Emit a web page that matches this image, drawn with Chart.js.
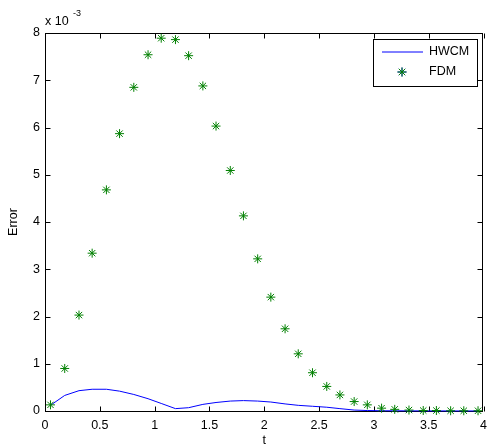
<!DOCTYPE html>
<html>
<head>
<meta charset="utf-8">
<script src="https://cdn.jsdelivr.net/npm/chart.js@4.4.1/dist/chart.umd.min.js"></script>
<style>
  html, body { margin: 0; padding: 0; background: #fff; }
  canvas { display: block; }
</style>
</head>
<body>
<canvas id="err" width="494" height="446"></canvas>
<script>
// values, error in units of 1e-3
const tValues = [0.05, 0.18, 0.31, 0.43, 0.56, 0.68, 0.81, 0.94, 1.06, 1.19, 1.31, 1.44,
  1.56, 1.69, 1.81, 1.94, 2.06, 2.19, 2.31, 2.44, 2.57, 2.69, 2.82, 2.94, 3.07, 3.19,
  3.32, 3.45, 3.57, 3.70, 3.82, 3.95]
const hwcmError = [0.12, 0.33, 0.43, 0.46, 0.46, 0.42, 0.35, 0.26, 0.16, 0.05, 0.07, 0.14,
  0.18, 0.21, 0.22, 0.21, 0.19, 0.15, 0.12, 0.10, 0.08, 0.05, 0.02, 0.01, 0.005, 0.004,
  0.003, 0.002, 0.002, 0.001, 0.001, 0.001]
const fdmError = [0.13, 0.90, 2.03, 3.34, 4.68, 5.87, 6.85, 7.54, 7.89, 7.86, 7.52, 6.88,
  6.03, 5.09, 4.13, 3.22, 2.41, 1.74, 1.21, 0.81, 0.52, 0.34, 0.20, 0.13, 0.06, 0.035,
  0.02, 0.01, 0.01, 0.005, 0.005, 0.005]

const xTickValues = [0, 0.5, 1, 1.5, 2, 2.5, 3, 3.5, 4]
const yTickValues = [0, 1, 2, 3, 4, 5, 6, 7, 8]
const seriesNames = ['HWCM', 'FDM']

const FONT = "'Liberation Sans', Arial, Helvetica, sans-serif"
Chart.defaults.font.family = FONT
Chart.defaults.font.size = 12.5
Chart.defaults.color = '#000'

const toPoints = (ys) => tValues.map((t, i) => ({ x: t, y: ys[i] }))

// MATLAB-ish box with inward ticks on all four sides
const axesBox = {
  id: 'axesBox',
  beforeDatasetsDraw(chart) {
    const { ctx, chartArea: a, scales: { x, y } } = chart
    const L = Math.floor(a.left) + 0.5, R = Math.floor(a.right) - 0.5
    const T = Math.floor(a.top) + 0.5, B = Math.floor(a.bottom) + 0.5
    ctx.save()
    ctx.strokeStyle = '#000'
    ctx.lineWidth = 1
    ctx.strokeRect(L, T, R - L, B - T)
    ctx.beginPath()
    x.ticks.forEach(tk => {
      const px = Math.round(x.getPixelForValue(tk.value)) + 0.5
      ctx.moveTo(px, B); ctx.lineTo(px, B - 5)
      ctx.moveTo(px, T); ctx.lineTo(px, T + 5)
    })
    y.ticks.forEach(tk => {
      const py = Math.round(y.getPixelForValue(tk.value)) + 0.5
      ctx.moveTo(L, py); ctx.lineTo(L + 5, py)
      ctx.moveTo(R, py); ctx.lineTo(R - 5, py)
    })
    ctx.stroke()
    ctx.restore()
  },
  afterDraw(chart) {
    const { ctx, chartArea: a } = chart
    ctx.save()
    // exponent label
    ctx.fillStyle = '#000'
    ctx.textBaseline = 'alphabetic'
    ctx.font = '12.5px ' + FONT
    ctx.fillText('x 10', a.left, a.top - 8)
    ctx.font = '9px ' + FONT
    ctx.fillText('-3', a.left + 28, a.top - 17)

    // legend
    const lx = 373.5, ly = 39.5, lw = 104, lh = 47
    ctx.fillStyle = '#fff'
    ctx.fillRect(lx, ly, lw, lh)
    ctx.strokeStyle = '#000'
    ctx.lineWidth = 1
    ctx.strokeRect(lx, ly, lw, lh)
    ctx.strokeStyle = 'rgb(0,0,255)'
    ctx.beginPath()
    ctx.moveTo(382, 52); ctx.lineTo(423, 52)
    ctx.stroke()
    Chart.helpers.drawPoint(ctx, { pointStyle: 'star', radius: 4.5, borderWidth: 1 }, 402, 72)
    ctx.strokeStyle = 'rgb(0,128,0)'
    ctx.stroke()
    ctx.fillStyle = '#000'
    ctx.font = '12.5px ' + FONT
    ctx.textBaseline = 'middle'
    ctx.fillText(seriesNames[0], 429, 52)
    ctx.fillText(seriesNames[1], 429, 72)
    ctx.restore()
  }
}

new Chart(document.getElementById('err'), {
  type: 'line',
  data: {
    datasets: [
      {
        label: seriesNames[0],
        data: toPoints(hwcmError),
        borderColor: 'rgb(0,0,255)',
        borderWidth: 1,
        pointRadius: 0,
        tension: 0,
        clip: false,
        order: 1
      },
      {
        label: seriesNames[1],
        data: toPoints(fdmError),
        showLine: false,
        pointStyle: 'star',
        pointRadius: 4.5,
        pointBorderWidth: 1,
        borderColor: 'rgb(0,128,0)',
        backgroundColor: 'rgb(0,128,0)',
        clip: false,
        order: 0
      }
    ]
  },
  options: {
    responsive: false,
    animation: false,
    devicePixelRatio: 1,
    layout: { padding: { left: 0, top: 33, right: 3, bottom: 0 } },
    plugins: { legend: { display: false }, tooltip: { enabled: false } },
    scales: {
      x: {
        type: 'linear',
        min: 0,
        max: 4,
        afterBuildTicks: s => { s.ticks = xTickValues.map(v => ({ value: v })) },
        afterFit: s => { s.height = 35 },
        grid: { display: false, drawTicks: false },
        border: { display: false },
        ticks: { padding: 7, maxRotation: 0, autoSkip: false, callback: v => String(v) },
        title: { display: true, text: 't', padding: { top: 0, bottom: -1 }, font: { lineHeight: 1 } }
      },
      y: {
        type: 'linear',
        min: 0,
        max: 8,
        afterBuildTicks: s => { s.ticks = yTickValues.map(v => ({ value: v })) },
        afterFit: s => { s.width = 45 },
        grid: { display: false, drawTicks: false },
        border: { display: false },
        ticks: { padding: 5, autoSkip: false, callback: v => String(v) },
        title: { display: true, text: 'Error', padding: { top: 7, bottom: 0 }, font: { lineHeight: 1 } }
      }
    }
  },
  plugins: [axesBox]
})
</script>
</body>
</html>
